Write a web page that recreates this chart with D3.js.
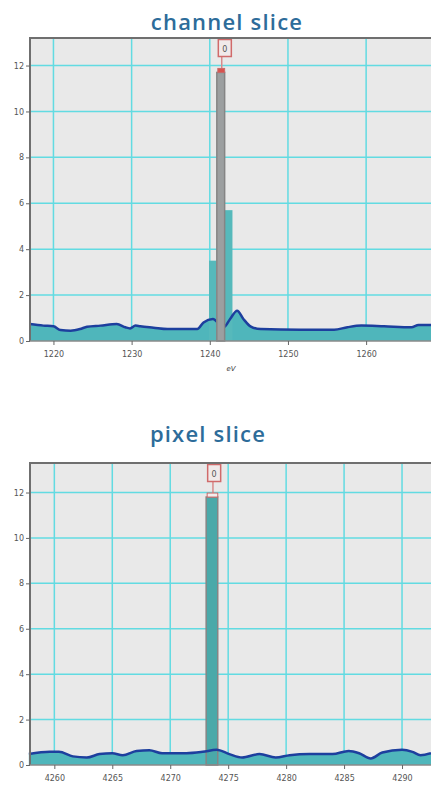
<!DOCTYPE html>
<html>
<head>
<meta charset="utf-8">
<script src="https://cdn.jsdelivr.net/npm/d3@7"></script>
<style>
  html, body { margin: 0; padding: 0; background: #fff; }
  svg { display: block; }
</style>
</head>
<body>
<div id="chart"></div>
<script>
// ---- data ----
// channel slice: spectrum (eV, counts)
var chanEv     = [1217, 1218.7, 1220, 1220.9, 1222.2, 1223.4, 1224.3, 1226, 1228.1, 1229.2, 1229.8, 1230.5, 1231.1, 1232.8, 1234.6, 1238.4, 1239.2, 1240.4, 1241.4, 1241.8, 1242.6, 1243.5, 1244.3, 1245.2, 1246.5, 1251.6, 1255.9, 1257.6, 1259.4, 1262.3, 1265.8, 1266.7, 1268.5];
var chanCounts = [0.74, 0.67, 0.64, 0.48, 0.45, 0.52, 0.62, 0.67, 0.74, 0.6, 0.55, 0.67, 0.64, 0.58, 0.52, 0.52, 0.81, 0.96, 0.67, 0.6, 0.96, 1.32, 0.96, 0.64, 0.52, 0.49, 0.49, 0.6, 0.67, 0.64, 0.6, 0.7, 0.7];
// channel slice: tall channels (centre eV, counts), the middle one is selected
var chanBarEv     = [1240.4, 1241.4, 1242.4];
var chanBarCounts = [3.5, 11.7, 5.7];
var chanSelected  = 1;
var chanTicks     = [1220, 1230, 1240, 1250, 1260];

// pixel slice: profile (pixel, counts)
var pixPos    = [4257.8, 4259.6, 4260.4, 4261.6, 4262.8, 4263.9, 4265, 4265.9, 4267.1, 4268.2, 4269.3, 4271.4, 4272.8, 4274, 4275.1, 4276.2, 4277.7, 4279.1, 4280.3, 4282, 4284, 4285.4, 4286.3, 4287.3, 4288.3, 4290, 4290.9, 4291.6, 4292.5];
var pixCounts = [0.48, 0.58, 0.58, 0.38, 0.33, 0.48, 0.52, 0.43, 0.62, 0.65, 0.52, 0.52, 0.58, 0.67, 0.48, 0.33, 0.48, 0.33, 0.43, 0.48, 0.48, 0.62, 0.52, 0.29, 0.55, 0.67, 0.58, 0.43, 0.52];
var pixBarPos    = [4273.6];
var pixBarCounts = [11.8];
var pixSelected  = 0;
var pixTicks     = [4260, 4265, 4270, 4275, 4280, 4285, 4290];

var yTicks = [0, 2, 4, 6, 8, 10, 12];

var W = 431, H = 787;
var svg = d3.select('#chart').append('svg')
  .attr('width', W).attr('height', H);

function drawPanel(o) {
  var x = d3.scaleLinear().domain(o.xDomain).range([30, W]);
  var y = d3.scaleLinear().domain([0, o.yMax]).range([o.bottom, o.top]);
  var g = svg.append('g');

  // title
  g.append('text')
    .attr('x', o.titleX).attr('y', o.titleY)
    .attr('text-anchor', 'middle')
    .attr('font-family', '"Open Sans", sans-serif')
    .attr('font-weight', 600)
    .attr('font-size', '22px')
    .attr('letter-spacing', '1.2px')
    .attr('fill', '#2d6c9a')
    .text(o.title);

  // plot background
  g.append('rect')
    .attr('x', 30).attr('y', o.top)
    .attr('width', W - 30).attr('height', o.bottom - o.top)
    .attr('fill', '#e9e9e9');

  // grid
  g.selectAll('.hg').data(yTicks.slice(1)).enter().append('line')
    .attr('x1', 30).attr('x2', W)
    .attr('y1', function(d) { return y(d); }).attr('y2', function(d) { return y(d); })
    .attr('stroke', '#62dbe2').attr('stroke-width', 1.5);
  g.selectAll('.vg').data(o.xTicks).enter().append('line')
    .attr('x1', function(d) { return x(d); }).attr('x2', function(d) { return x(d); })
    .attr('y1', o.top).attr('y2', o.bottom)
    .attr('stroke', '#62dbe2').attr('stroke-width', 1.5);

  var area = d3.area()
    .x(function(d) { return x(d[0]); })
    .y0(y(0)).y1(function(d) { return y(d[1]); })
    .curve(d3.curveMonotoneX);
  var line = d3.line()
    .x(function(d) { return x(d[0]); })
    .y(function(d) { return y(d[1]); })
    .curve(d3.curveMonotoneX);
  var pts = o.xs.map(function(v, i) { return [v, o.ys[i]]; });

  g.append('path').datum(pts).attr('d', area).attr('fill', '#4fb6bb');

  // tall channels (not selected)
  var bars = o.barX.map(function(v, i) { return { x: v, v: o.barY[i], sel: i === o.selected }; });
  g.selectAll('.bar').data(bars.filter(function(d) { return !d.sel; })).enter().append('rect')
    .attr('x', function(d) { return x(d.x - 0.5); })
    .attr('width', function(d) { return x(d.x + 0.5) - x(d.x - 0.5); })
    .attr('y', function(d) { return y(d.v); })
    .attr('height', function(d) { return y(0) - y(d.v); })
    .attr('fill', '#56b9bb');

  var sel = bars.filter(function(d) { return d.sel; })[0];
  function drawSel() {
    var x0 = x(sel.x - 0.5), x1 = x(sel.x + 0.5);
    g.append('rect')
      .attr('x', x0).attr('width', x1 - x0)
      .attr('y', y(sel.v)).attr('height', y(0) - y(sel.v))
      .attr('fill', o.selFill).attr('stroke', '#858585').attr('stroke-width', 1.5);
    // marker stem and cap
    g.append('line')
      .attr('x1', (x0 + x1) / 2 + 1).attr('x2', (x0 + x1) / 2 + 1)
      .attr('y1', o.top + 19).attr('y2', y(sel.v))
      .attr('stroke', '#d88a8a').attr('stroke-width', 1.5);
    g.append('rect')
      .attr('x', x0 + 1).attr('width', x1 - x0 - 1)
      .attr('y', y(sel.v) - 4).attr('height', 4)
      .attr('fill', o.capFill).attr('stroke', '#c96a6a').attr('stroke-width', 1);
    // value label box
    g.append('rect')
      .attr('x', x0 + 1.5).attr('width', 13)
      .attr('y', o.top + 1.5).attr('height', 17)
      .attr('fill', '#f1eaea').attr('stroke', '#d06a6a').attr('stroke-width', 1.5);
    g.append('text')
      .attr('x', x0 + 8).attr('y', o.top + 13.5)
      .attr('text-anchor', 'middle')
      .attr('font-family', '"DejaVu Sans", sans-serif')
      .attr('font-size', '8px')
      .attr('fill', '#555')
      .text('0');
  }

  if (o.lineOverSel) {
    drawSel();
    g.append('path').datum(pts).attr('d', line)
      .attr('fill', 'none').attr('stroke', '#1d3f9e').attr('stroke-width', 2.5);
  } else {
    g.append('path').datum(pts).attr('d', line)
      .attr('fill', 'none').attr('stroke', '#1d3f9e').attr('stroke-width', 2.5);
    drawSel();
  }

  // frame: left and top, plus bottom axis line
  g.append('path')
    .attr('d', 'M30,' + o.bottom + 'V' + o.top + 'H' + W)
    .attr('fill', 'none').attr('stroke', '#6f6f6f').attr('stroke-width', 2);
  g.append('line')
    .attr('x1', 30).attr('x2', W).attr('y1', o.bottom).attr('y2', o.bottom)
    .attr('stroke', '#8a8a8a').attr('stroke-width', 1.5);

  // axes
  var ya = d3.axisLeft(y).tickValues(yTicks).tickSize(4).tickPadding(2).tickFormat(d3.format('d'));
  var yg = g.append('g').attr('transform', 'translate(30,0)').call(ya);
  var xa = d3.axisBottom(x).tickValues(o.xTicks).tickSize(4).tickPadding(6).tickFormat(d3.format('d'));
  var xg = g.append('g').attr('transform', 'translate(0,' + o.bottom + ')').call(xa);
  [yg, xg].forEach(function(a) {
    a.select('.domain').remove();
    a.selectAll('line').attr('stroke', '#666');
    a.selectAll('text')
      .attr('font-family', '"DejaVu Sans", sans-serif')
      .attr('font-size', '8px')
      .attr('fill', '#555');
  });

  if (o.xLabel) {
    g.append('text')
      .attr('x', o.xLabelX).attr('y', o.bottom + 30)
      .attr('text-anchor', 'middle')
      .attr('font-family', '"DejaVu Sans", sans-serif')
      .attr('font-style', 'italic')
      .attr('font-size', '7px')
      .attr('fill', '#444')
      .text(o.xLabel);
  }
}

drawPanel({
  title: 'channel slice', titleX: 227, titleY: 30,
  top: 38, bottom: 341, yMax: 13.2,
  xDomain: [1217, 1268.3], xTicks: chanTicks,
  xs: chanEv, ys: chanCounts,
  barX: chanBarEv, barY: chanBarCounts, selected: chanSelected,
  selFill: '#9c9fa0', capFill: '#d9534f', lineOverSel: false,
  xLabel: 'eV', xLabelX: 231
});

drawPanel({
  title: 'pixel slice', titleX: 208, titleY: 442,
  top: 463, bottom: 765, yMax: 13.3,
  xDomain: [4257.9, 4292.5], xTicks: pixTicks,
  xs: pixPos, ys: pixCounts,
  barX: pixBarPos, barY: pixBarCounts, selected: pixSelected,
  selFill: '#4aa9a9', capFill: '#f3eeee', lineOverSel: true
});
</script>
</body>
</html>
